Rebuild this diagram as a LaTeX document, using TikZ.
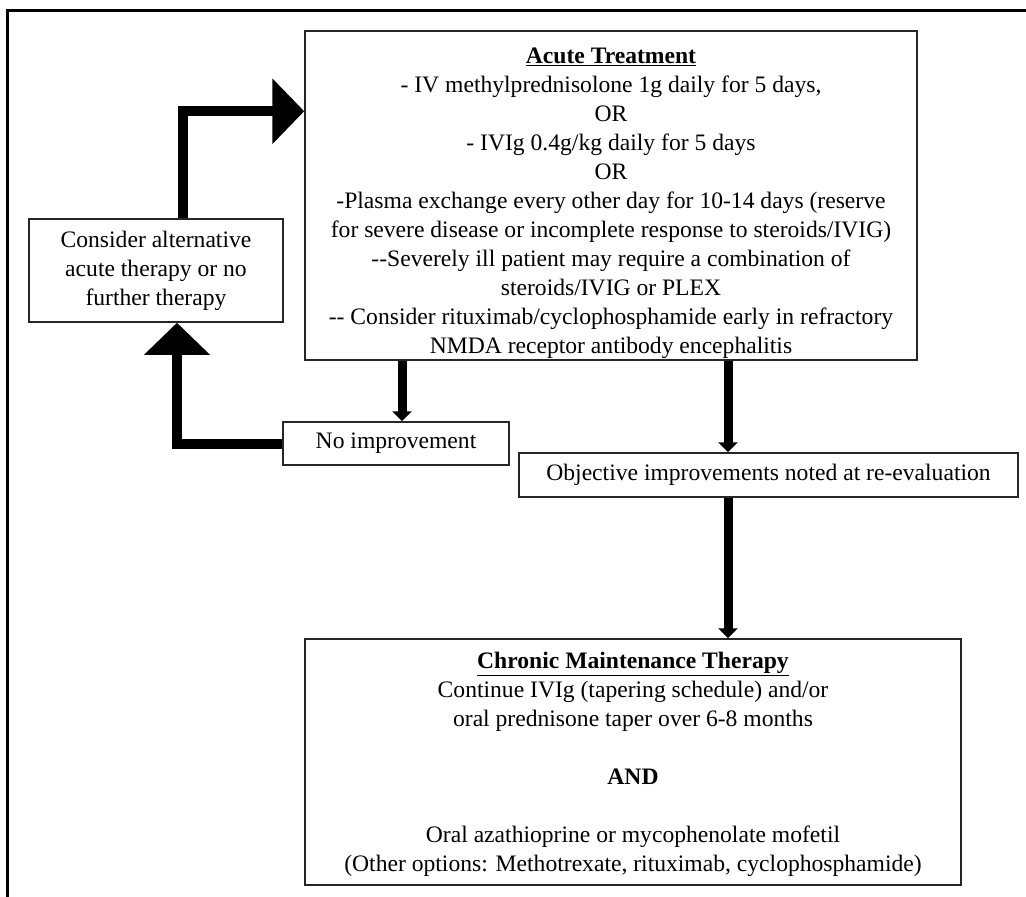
\documentclass[tikz,border=0pt]{standalone}
\usepackage{fontspec}
\setmainfont{Liberation Serif}
\usetikzlibrary{arrows.meta}
\tikzset{
  box/.style={draw=black!85, line width=1.5pt, inner sep=0pt, align=center,
    font=\fontsize{23.6}{29}\selectfont},
  bigarrow/.style={line width=10pt, -{Triangle[length=32pt,width=64pt]}},
  smallarrow/.style={line width=9pt, -{Triangle[length=10pt,width=19pt]}},
  frameline/.style={line width=3pt}
}
\begin{document}
\begin{tikzpicture}[x=1pt,y=-1pt]
\useasboundingbox (0,0) rectangle (1026,897);
\draw[frameline] (7,897) -- (7,10) -- (1026,10);

\node[box, minimum width=612pt, minimum height=329pt] (acute) at (611,195.5) {%
\rule{0pt}{31pt}\underline{\textbf{Acute Treatment}}\\
- IV methylprednisolone 1g daily for 5 days,\\
OR\\
- IVIg 0.4g/kg daily for 5 days\\
OR\\
-Plasma exchange every other day for 10-14 days (reserve\\
for severe disease or incomplete response to steroids/IVIG)\\
-{}-Severely ill patient may require a combination of\\
steroids/IVIG or PLEX\\
-{}- Consider rituximab/cyclophosphamide early in refractory\\
NMDA receptor antibody encephalitis};

\node[box, minimum width=254pt, minimum height=103pt] (consider) at (156,270.5) {%
Consider alternative\\
acute therapy or no\\
further therapy};

\node[box, minimum width=226pt, minimum height=43pt] (noimp) at (396,443.5) {No improvement};

\node[box, minimum width=499pt, minimum height=44pt] (obj) at (768.5,475) {Objective improvements noted at re-evaluation};

\node[box, minimum width=656pt, minimum height=246pt] (chronic) at (633,762) {%
\rule{0pt}{22pt}\underline{\textbf{Chronic Maintenance Therapy}}\\
Continue IVIg (tapering schedule) and/or\\
oral prednisone taper over 6-8 months\\[29pt]
\textbf{AND}\\[29pt]
Oral azathioprine or mycophenolate mofetil\\
(Other options: Methotrexate, rituximab, cyclophosphamide)};

\draw[bigarrow] ([xshift=27pt]consider.north) |- ([yshift=-81pt]acute.north west);
\draw[bigarrow] (noimp.west) -| ([xshift=21pt]consider.south);
\draw[smallarrow] ([xshift=-209pt]acute.south) -- ([xshift=-209pt]acute.south |- noimp.north);
\draw[smallarrow] ([xshift=117pt]acute.south) -- ([xshift=117pt]acute.south |- obj.north);
\draw[smallarrow] ([xshift=-40.5pt]obj.south) -- ([xshift=-40.5pt]obj.south |- chronic.north);
\end{tikzpicture}
\end{document}
